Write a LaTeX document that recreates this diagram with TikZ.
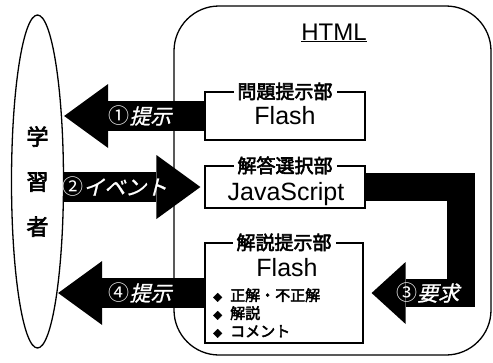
\documentclass[tikz,border=0pt]{standalone}
\usepackage{fontspec}
\setmainfont{Liberation Sans}
\newfontfamily\jpfont{Noto Sans CJK JP}
\newfontfamily\jpbold[FakeBold=3]{Noto Sans CJK JP}
\newfontfamily\jpslant[FakeSlant=0.25,FakeBold=1]{Noto Sans CJK JP}
\usetikzlibrary{shapes,arrows,positioning,calc,arrows.meta}

\newcommand{\dia}{\makebox[17pt][l]{\fontsize{9}{9}\selectfont ◆}}

\tikzset{
  partbox/.style={draw, line width=1.2pt, minimum width=160pt, inner sep=0pt},
  parttitle/.style={fill=white, inner xsep=4pt, inner ysep=1pt, font=\jpbold\fontsize{19}{19}\selectfont},
  bigarrow/.style={line width=30pt, -{Triangle[width=64pt,length=44pt,line width=0pt]}},
  arrowtext/.style={text=white, font=\jpfont\fontsize{21}{21}\selectfont}
}

\begin{document}
\begin{tikzpicture}[x=1pt, y=-1pt]
    \useasboundingbox (0,0) rectangle (493,362);

    % HTML page
    \node [draw, line width=1.3pt, rounded corners=45pt, minimum width=317pt, minimum height=349pt, inner sep=0pt] (html) at (332.5,180.5) {};
    \node (htmltitle) at (334,33) {\fontsize{24}{24}\selectfont\underline{HTML}};

    % Learner
    \node [draw, ellipse, line width=1.3pt, minimum width=52pt, minimum height=333pt, inner sep=0pt, align=center, font=\jpbold\fontsize{22}{45}\selectfont] (learner) at (37.5,181.5) {学\\習\\者};

    % Parts
    \node [partbox, minimum height=48pt, font=\fontsize{25}{25}\selectfont] (question) at (285,116) {Flash};
    \node [parttitle] at (question.north) {問題提示部};

    \node [partbox, minimum height=42pt] (answer) at (285,187) {};
    \node [parttitle] at (answer.north) {解答選択部};
    \node [anchor=base, inner sep=0pt, font=\fontsize{25}{25}\selectfont] (ajs) at (286,200) {JavaScript};

    \node [partbox, minimum width=158pt, minimum height=100pt] (explain) at (284,293) {};
    \node [parttitle] at (explain.north) {解説提示部};
    \node [font=\fontsize{25}{25}\selectfont] (eflash) at (287,268) {Flash};
    \node [anchor=north west, align=left, inner sep=0pt, font=\jpbold\fontsize{15}{18}\selectfont] (elist) at (213,288) {\dia 正解・不正解\\\dia 解説\\\dia コメント};

    % Arrows
    \draw [bigarrow] (question.west) -- node [arrowtext, pos=0.46] {①{\jpslant 提示}} (question.west -| learner.east);
    \draw [bigarrow, shorten >=4pt] (answer.west -| learner.east) -- node [arrowtext, pos=0.36] {②{\jpslant イベント}} (answer.west);
    \draw [bigarrow, line width=28pt, -{Triangle[width=62pt,length=34pt,line width=0pt]}, shorten >=8pt] (answer.east) -- ++(95,0) |- node [arrowtext, pos=0.67] {③{\jpslant 要求}} (explain.east);
    \draw [bigarrow] (explain.west) -- node [arrowtext, pos=0.44] {④{\jpslant 提示}} ([xshift=-6pt]explain.west -| learner.east);
\end{tikzpicture}
\end{document}
